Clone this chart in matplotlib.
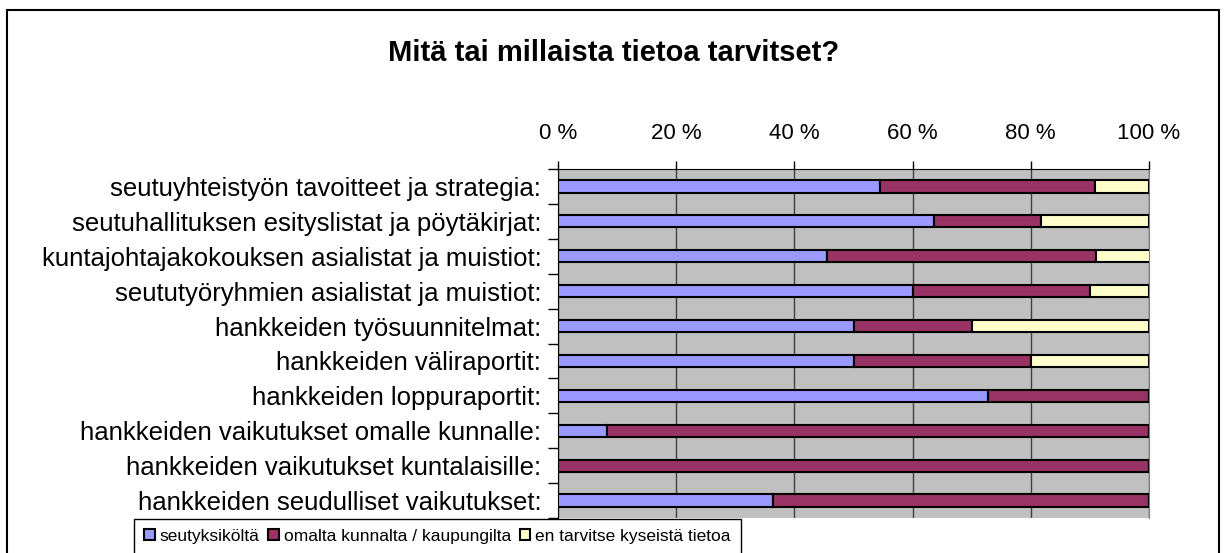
import matplotlib.pyplot as plt
import numpy as np
from matplotlib.patches import Rectangle

plt.rcParams["font.family"] = ["Liberation Sans", "DejaVu Sans"]

categories = [
    "seutuyhteistyön tavoitteet ja strategia:",
    "seutuhallituksen esityslistat ja pöytäkirjat:",
    "kuntajohtajakokouksen asialistat ja muistiot:",
    "seututyöryhmien asialistat ja muistiot:",
    "hankkeiden työsuunnitelmat:",
    "hankkeiden väliraportit:",
    "hankkeiden loppuraportit:",
    "hankkeiden vaikutukset omalle kunnalle:",
    "hankkeiden vaikutukset kuntalaisille:",
    "hankkeiden seudulliset vaikutukset:",
]
series = ["seutyksiköltä", "omalta kunnalta / kaupungilta", "en tarvitse kyseistä tietoa"]
seutu = [54.5, 63.6, 45.5, 60.0, 50.0, 50.0, 72.7, 8.3, 0.0, 36.4]
kunta = [36.4, 18.2, 45.5, 30.0, 20.0, 30.0, 27.3, 91.7, 100.0, 63.6]
ei_tarvetta = [9.1, 18.2, 9.1, 10.0, 30.0, 20.0, 0.0, 0.0, 0.0, 0.0]
colors = ["#9999FF", "#993366", "#FFFFCC"]
xticks = [0, 20, 40, 60, 80, 100]

fig = plt.figure(figsize=(12.28, 5.53), dpi=100)
ax = fig.add_axes([558 / 1228, 35 / 553, 591 / 1228, 349 / 553])
ax.set_facecolor("#C0C0C0")

y = np.arange(len(categories))
left = np.zeros(len(categories))
for vals, col, name in zip([seutu, kunta, ei_tarvetta], colors, series):
    ax.barh(y, vals, left=left, height=0.35, color=col, edgecolor="black",
            linewidth=1.5, label=name, zorder=3)
    left += np.array(vals)

ax.set_xlim(0, 100)
ax.set_ylim(len(categories) - 0.5, -0.5)
ax.xaxis.tick_top()
ax.set_xticks(xticks)
ax.set_xticklabels([f"{t} %" for t in xticks], fontsize=16)
ax.tick_params(axis="x", direction="out", length=6, width=1, pad=12)
for t in xticks:
    ax.axvline(t, color="#404040", linewidth=1, zorder=1)

ax.set_yticks(y)
ax.set_yticklabels(categories, fontsize=18.5)
ax.tick_params(axis="y", length=0, pad=12)
ax.set_yticks(np.arange(len(categories) + 1) - 0.5, minor=True)
ax.tick_params(axis="y", which="minor", direction="out", length=7, width=1)
ax.tick_params(axis="x", which="minor", length=0)

ax.spines["top"].set_color("black")
ax.spines["left"].set_color("black")
ax.spines["right"].set_color("#808080")
ax.spines["bottom"].set_visible(False)

fig.text(0.5, 1 - 53 / 553, "Mitä tai millaista tietoa tarvitset?",
         ha="center", va="center", fontsize=21, fontweight="bold")

fig.legend(loc="upper left", bbox_to_anchor=(125 / 1228, 1 - 510 / 553), ncol=3,
           fontsize=12.5, frameon=True, fancybox=False, edgecolor="black",
           handlelength=0.6, handleheight=0.6, handletextpad=0.3,
           columnspacing=0.5, borderpad=0.6, framealpha=1)

fig.patches.append(Rectangle((7 / 1228, -0.1), 1212 / 1228, 1.1 - 10 / 553,
                             transform=fig.transFigure, fill=False,
                             edgecolor="black", linewidth=1.5))

fig.savefig("out.png", dpi=100)
